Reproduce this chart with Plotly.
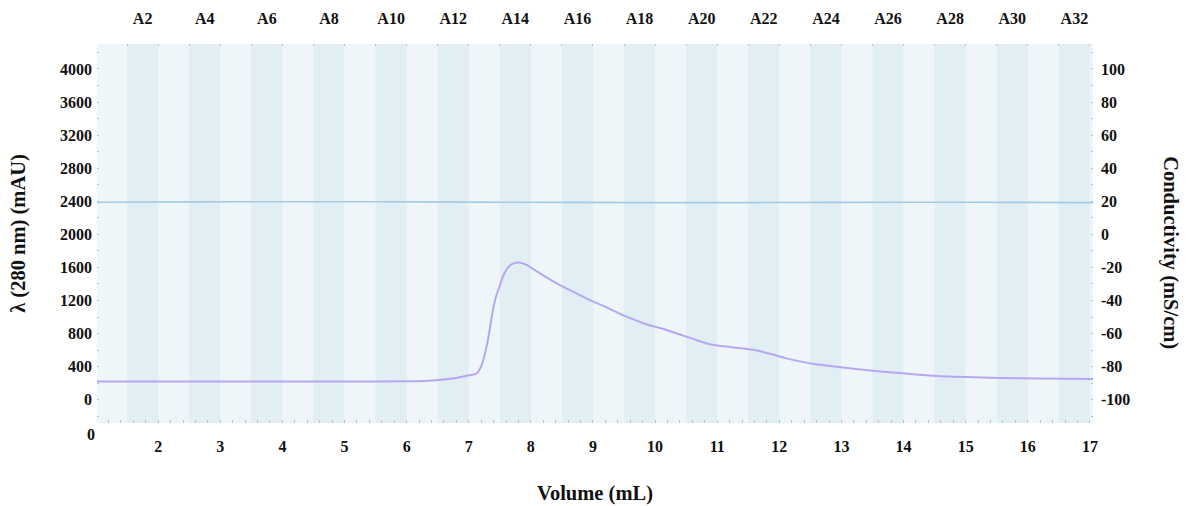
import plotly.graph_objects as go

# Elution volume (mL) and UV absorbance at 280 nm (mAU)
uv_volume = [1.0, 2.0, 3.0, 4.0, 5.0, 6.0, 6.3, 6.55, 6.8, 6.97, 7.08, 7.14, 7.21,
             7.30, 7.39, 7.44, 7.50, 7.55, 7.62, 7.66, 7.72, 7.79, 7.86, 7.93, 8.14,
             8.41, 8.67, 8.94, 9.21, 9.53, 9.87, 10.15, 10.40, 10.60, 10.83, 11.00,
             11.21, 11.58, 11.85, 12.10, 12.53, 12.96, 13.50, 13.94, 14.47, 15.01,
             15.55, 16.20, 17.05]
uv_mau = [221, 221, 221, 221, 221, 222, 225, 240, 262, 290, 305, 325, 423,
          688, 1090, 1250, 1380, 1490, 1585, 1620, 1648, 1660, 1652, 1630, 1531,
          1410, 1309, 1208, 1120, 1007, 910, 852, 788, 738, 680, 655,
          637, 604, 555, 503, 435, 395, 350, 322, 290, 274,
          262, 255, 250]

# Conductivity trace (mS/cm)
cond_volume = [1.0, 2.5, 4.0, 5.5, 7.0, 8.5, 10.0, 11.5, 13.0, 14.5, 16.0, 17.05]
cond_mscm = [19.4, 19.6, 19.7, 19.7, 19.5, 19.3, 19.2, 19.2, 19.3, 19.4, 19.3, 19.2]

# Fraction collection: 32 fractions of 0.5 mL starting at 1.0 mL
fraction_start = 1.0
fraction_size = 0.5
fraction_count = 32
fraction_names = [f"A{i}" for i in range(1, fraction_count + 1)]

# Axis ticks
volume_ticks = list(range(2, 18))
uv_ticks = list(range(0, 4001, 400))
cond_ticks = list(range(-100, 101, 20))

x_range = [1.015, 17.05]
uv_range = [-282, 4302]
cond_range = [(uv_range[0] - 2000) / 20, (uv_range[1] - 2000) / 20]

FONT = "Liberation Serif, Times New Roman, serif"
LIGHT_BAND = "#eef6f9"
DARK_BAND = "#e1eef4"
TICK_GREY = "#b8c2c8"

fig = go.Figure()

fig.add_trace(go.Scatter(
    x=cond_volume, y=cond_mscm, mode="lines", yaxis="y2", xaxis="x",
    line=dict(color="#a4cbe6", width=1.6, shape="spline"),
    name="Conductivity", hoverinfo="x+y",
))
fig.add_trace(go.Scatter(
    x=uv_volume, y=uv_mau, mode="lines", xaxis="x", yaxis="y",
    line=dict(color="#b7a6f2", width=2, shape="spline", smoothing=0.5),
    name="UV 280 nm", hoverinfo="x+y",
))
# invisible trace to carry the fraction axis on top
fig.add_trace(go.Scatter(x=x_range, y=[None, None], xaxis="x2", yaxis="y",
                         showlegend=False, hoverinfo="skip"))

# alternating fraction bands
shapes = []
for i, name in enumerate(fraction_names):
    x0 = fraction_start + i * fraction_size
    shapes.append(dict(
        type="rect", xref="x", yref="paper", x0=x0, x1=x0 + fraction_size,
        y0=0, y1=1, fillcolor=DARK_BAND if i % 2 == 1 else LIGHT_BAND,
        line=dict(width=0), layer="below",
    ))
shapes.append(dict(type="rect", xref="x", yref="paper",
                   x0=fraction_start + fraction_count * fraction_size, x1=x_range[1],
                   y0=0, y1=1, fillcolor=LIGHT_BAND, line=dict(width=0), layer="below"))

label_idx = [i for i in range(fraction_count) if (i + 1) % 2 == 0]
frac_centers = [fraction_start + (i + 0.5) * fraction_size for i in label_idx]
frac_labels = [fraction_names[i] for i in label_idx]
frac_edges = [fraction_start + i * fraction_size for i in range(fraction_count + 1)]

tickfont = dict(family=FONT, size=16, color="#111", weight="bold")
titlefont = dict(family=FONT, size=20.5, color="#111", weight="bold")

fig.update_layout(
    width=1188, height=506,
    margin=dict(l=97, r=95, t=44, b=83, autoexpand=False),
    paper_bgcolor="white", plot_bgcolor=LIGHT_BAND,
    showlegend=False,
    shapes=shapes,
    xaxis=dict(
        range=x_range, tickvals=volume_ticks, ticktext=[str(v) for v in volume_ticks],
        ticks="inside", ticklen=3, tickcolor=TICK_GREY, tickwidth=1,
        minor=dict(dtick=0.2, tick0=0, ticks="inside", ticklen=3, tickcolor=TICK_GREY),
        showgrid=False, zeroline=False, showline=False,
        tickfont=tickfont, ticklabelstandoff=12,
        title=dict(text="Volume (mL)", font=titlefont, standoff=31),
    ),
    xaxis2=dict(
        overlaying="x", side="top", matches="x", anchor="y",
        tickvals=frac_centers, ticktext=frac_labels, ticks="",
        minor=dict(tickvals=frac_edges, ticks="inside", ticklen=2, tickcolor=TICK_GREY),
        showgrid=False, zeroline=False, showline=False,
        tickfont=tickfont, ticklabelstandoff=16,
    ),
    yaxis=dict(
        range=uv_range, tickvals=uv_ticks, ticktext=[str(v) for v in uv_ticks],
        ticks="", minor=dict(dtick=200, tick0=0, ticks="inside", ticklen=2, tickcolor=TICK_GREY),
        showgrid=False, zeroline=False, showline=False,
        tickfont=tickfont, ticklabelstandoff=4,
        title=dict(text="λ (280 nm) (mAU)", font=titlefont, standoff=28),
    ),
    yaxis2=dict(
        range=cond_range, overlaying="y", side="right", anchor="x",
        tickvals=cond_ticks, ticktext=[str(v) for v in cond_ticks],
        ticks="", minor=dict(dtick=10, tick0=0, ticks="inside", ticklen=2, tickcolor=TICK_GREY),
        showgrid=False, zeroline=False, showline=False,
        tickfont=tickfont, ticklabelstandoff=7,
    ),
    annotations=[
        dict(text="0", xref="paper", yref="paper", x=-0.006, y=-0.03,
             xanchor="center", yanchor="middle", showarrow=False, font=tickfont),
        dict(text="Conductivity (mS/cm)", xref="paper", yref="paper",
             x=1.077, y=0.449, xanchor="center", yanchor="middle",
             textangle=90, showarrow=False, font=titlefont),
    ],
)

fig.write_html("out.html")
